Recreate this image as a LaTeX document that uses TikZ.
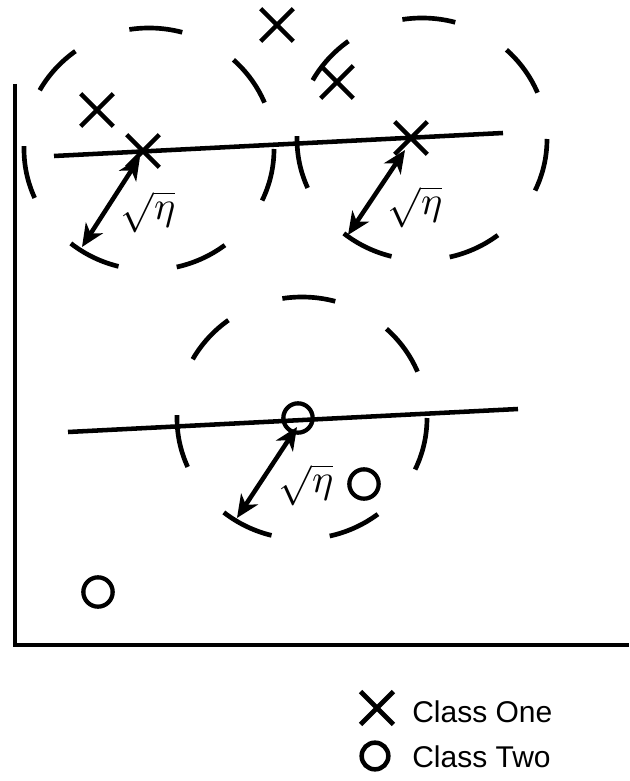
\documentclass[tikz,border=0pt]{standalone}
\usepackage{graphicx}
\usepackage{fontspec}
\newfontfamily\legendfont{Liberation Sans}
\usetikzlibrary{arrows.meta,shapes.misc}
\tikzset{
  ring/.style={line width=3.5pt, dash pattern=on 40pt off 44pt},
  cutline/.style={line width=3.4pt},
  axisline/.style={line width=3.6pt},
  classone/.style={draw, cross out, line width=3.4pt, minimum size=21pt, inner sep=0pt},
  classtwo/.style={draw, circle, line width=3.2pt, minimum size=22pt, inner sep=0pt},
  sqrtarr/.style={{Stealth[length=17pt,width=15pt,inset=5pt]}-{Stealth[length=17pt,width=15pt,inset=5pt]}, line width=3.4pt},
  etalabel/.style={inner sep=0pt},
  legendlabel/.style={font=\legendfont\fontsize{22.5}{27}\selectfont, anchor=base west, inner sep=0pt}
}
\newcommand{\sqeta}{\scalebox{3}{$\sqrt{\eta}$}}
\begin{document}
\begin{tikzpicture}[x=0.75pt, y=-0.75pt]
  \useasboundingbox (0,0) rectangle (629,781);

  % axes
  \coordinate (ytop) at (15,84);
  \coordinate (xend) at (629,645);
  \draw[axisline] (ytop) |- (xend);

  % dashed neighbourhoods
  \coordinate (c1) at (149,149);
  \coordinate (c2) at (422,139);
  \coordinate (c3) at (302,418);
  \foreach \c in {c1,c2,c3}
    \draw[ring] (\c) ellipse [x radius=125, y radius=121];

  % samples
  \node[classone] (x1) at (143,151) {};
  \node[classone] (x2) at (411,138) {};
  \node[classone] (x3) at (277,25) {};
  \node[classone] (x4) at (97,110) {};
  \node[classone] (x5) at (337,82) {};
  \node[classtwo] (o1) at (298,418) {};
  \node[classtwo] (o2) at (364,484) {};
  \node[classtwo] (o3) at (98,592) {};

  % boundaries
  \coordinate (la) at (54,156);
  \coordinate (lb) at (503,133);
  \coordinate (lc) at (68,432);
  \coordinate (ld) at (518,409);
  \draw[cutline] (la) -- (lb);
  \draw[cutline] (lc) -- (ld);

  % radius arrows
  \coordinate (r1) at (82,247);
  \coordinate (r2) at (348,235);
  \coordinate (r3) at (237,518);
  \coordinate (t1) at (140,157);
  \coordinate (t2) at (405,150);
  \coordinate (t3) at (297,427);
  \draw[sqrtarr] (r1) -- (t1);
  \draw[sqrtarr] (r2) -- (t2);
  \draw[sqrtarr] (r3) -- (t3);
  \node[etalabel] (e1) at (148,212) {\sqeta};
  \node[etalabel] (e2) at (415,207) {\sqeta};
  \node[etalabel] (e3) at (306,485) {\sqeta};

  % legend
  \node[classone, line width=3.6pt] (kx) at (377,708) {};
  \node[classtwo, minimum size=20pt, line width=3.4pt] (ko) at (375,756) {};
  \node[legendlabel] (kxt) at (412,722) {Class One};
  \node[legendlabel] (kot) at (412,767) {Class Two};
\end{tikzpicture}
\end{document}
